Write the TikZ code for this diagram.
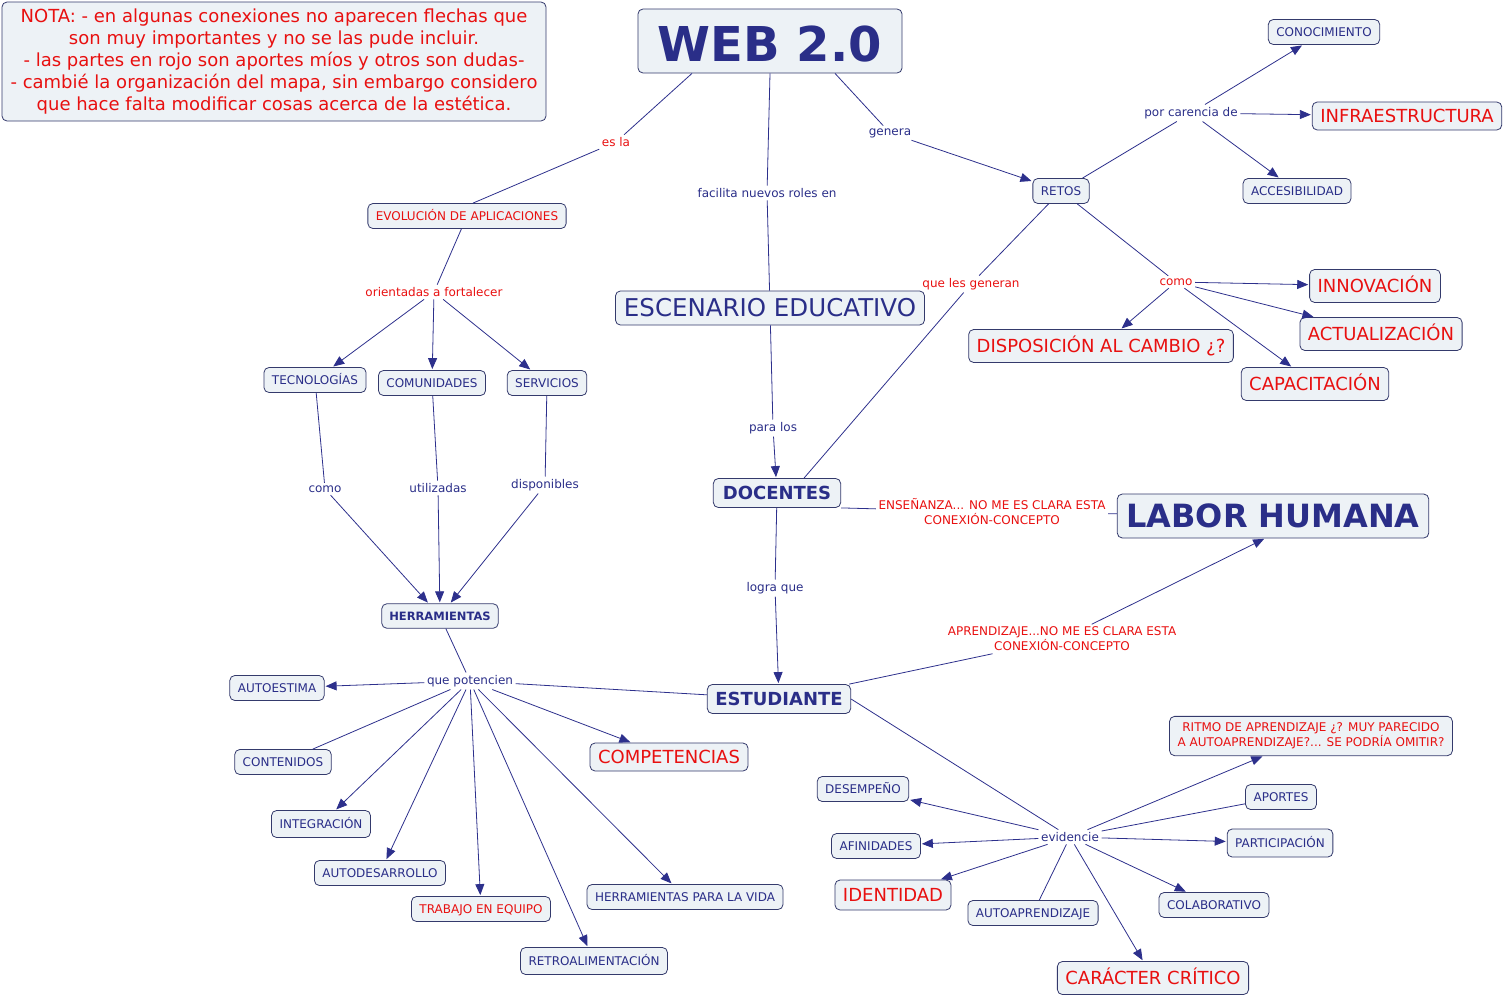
\documentclass[tikz,border=0pt]{standalone}
\usepackage{fontspec}
\setmainfont{DejaVu Sans}
\usetikzlibrary{arrows.meta}
\definecolor{azulmapa}{RGB}{42,46,136}
\definecolor{lineamapa}{RGB}{45,48,140}
\definecolor{bordemapa}{RGB}{52,58,108}
\definecolor{fondomapa}{RGB}{237,242,246}
\definecolor{rojomapa}{RGB}{232,16,16}

\tikzset{
  caja/.style={draw=bordemapa, fill=fondomapa, rounded corners=5pt, line width=0.8pt, text=azulmapa, inner xsep=8pt, inner ysep=6pt},
  concepto/.style={caja, text height=10.4pt, text depth=1.6pt, inner ysep=6.5pt, font=\fontsize{12}{14}\selectfont},
  grande/.style={caja, text height=15.6pt, text depth=2.4pt, inner ysep=5pt, font=\fontsize{18}{21}\selectfont},
  titulo/.style={caja, inner ysep=5.5pt, font=\fontsize{#1}{#1}\selectfont\bfseries},
  aporte/.style={text=rojomapa},
  enlace/.style={text=azulmapa, inner sep=2.5pt, font=\fontsize{12}{14}\selectfont},
  flecha/.style={draw=lineamapa, line width=0.8pt, -{Triangle[length=11pt,width=9pt]}, shorten >=1pt},
  linea/.style={draw=lineamapa, line width=0.8pt},
}

\begin{document}
\begin{tikzpicture}[x=1pt, y=-1pt]
\useasboundingbox (0,0) rectangle (1506,996);

\node[caja, aporte, align=center, minimum width=544pt, minimum height=119pt, font=\fontsize{18}{22}\selectfont] (nota) at (274,61.5) {NOTA: - en algunas conexiones no aparecen flechas que\\son muy importantes y no se las pude incluir.\\- las partes en rojo son aportes míos y otros son dudas-\\- cambié la organización del mapa, sin embargo considero\\que hace falta modificar cosas acerca de la estética.};

\node[titulo=48, text height=44pt, text depth=4pt, inner xsep=20pt, inner ysep=8pt] (web) at (770,41) {WEB 2.0};
\node[concepto, aporte] (evolucion) at (467,216) {EVOLUCIÓN DE APLICACIONES};
\node[concepto] (tecnologias) at (315,380) {TECNOLOGÍAS};
\node[concepto] (comunidades) at (432,383) {COMUNIDADES};
\node[concepto] (servicios) at (547,383) {SERVICIOS};
\node[titulo=11.5, text height=10pt, text depth=1.5pt, inner xsep=7.5pt, inner ysep=6.5pt] (herramientas) at (440,616) {HERRAMIENTAS};
\node[grande, font=\fontsize{24.5}{28}\selectfont, text height=21.2pt, text depth=3.3pt, inner ysep=4.8pt, inner xsep=8.5pt] (escenario) at (770,308) {ESCENARIO EDUCATIVO};
\node[titulo=18, text height=15.6pt, text depth=2.4pt, inner xsep=9.5pt] (docentes) at (777,493) {DOCENTES};
\node[titulo=18, text height=15.6pt, text depth=2.4pt, inner xsep=8pt] (estudiante) at (779,699) {ESTUDIANTE};
\node[titulo=32, text height=27.7pt, text depth=4.3pt, inner xsep=9pt, inner ysep=6pt] (labor) at (1273,516) {LABOR HUMANA};

\node[concepto] (retos) at (1061,191) {RETOS};
\node[concepto] (conocimiento) at (1324,32) {CONOCIMIENTO};
\node[grande, aporte] (infraestructura) at (1407,116) {INFRAESTRUCTURA};
\node[concepto] (accesibilidad) at (1297,191) {ACCESIBILIDAD};
\node[grande, aporte, inner ysep=7.5pt] (innovacion) at (1375,286) {INNOVACIÓN};
\node[grande, aporte, inner ysep=7.5pt] (actualizacion) at (1381,334) {ACTUALIZACIÓN};
\node[grande, aporte, inner ysep=7.5pt] (capacitacion) at (1315,384) {CAPACITACIÓN};
\node[grande, aporte, inner ysep=7.5pt] (disposicion) at (1101,346) {DISPOSICIÓN AL CAMBIO ¿?};

\node[concepto] (autoestima) at (277,688) {AUTOESTIMA};
\node[concepto] (contenidos) at (283,762) {CONTENIDOS};
\node[concepto, inner ysep=7.5pt] (integracion) at (321,824) {INTEGRACIÓN};
\node[concepto] (autodesarrollo) at (380,873) {AUTODESARROLLO};
\node[concepto, aporte] (trabajo) at (481,909) {TRABAJO EN EQUIPO};
\node[concepto, inner ysep=7.5pt] (retroalimentacion) at (594,961) {RETROALIMENTACIÓN};
\node[concepto] (paralavida) at (685,897) {HERRAMIENTAS PARA LA VIDA};
\node[grande, aporte] (competencias) at (669,757) {COMPETENCIAS};

\node[concepto] (desempeno) at (863,789) {DESEMPEÑO};
\node[concepto] (afinidades) at (876,846) {AFINIDADES};
\node[grande, aporte, inner ysep=6pt] (identidad) at (893,895) {IDENTIDAD};
\node[concepto] (autoaprendizaje) at (1033,913) {AUTOAPRENDIZAJE};
\node[grande, aporte, inner ysep=7.5pt] (critico) at (1153,978) {CARÁCTER CRÍTICO};
\node[concepto] (colaborativo) at (1214,905) {COLABORATIVO};
\node[concepto, inner ysep=8pt] (participacion) at (1280,843) {PARTICIPACIÓN};
\node[concepto] (aportes) at (1281,797) {APORTES};
\node[caja, aporte, align=center, inner ysep=6.5pt, font=\fontsize{12}{15}\selectfont] (ritmo) at (1311,736) {RITMO DE APRENDIZAJE ¿? MUY PARECIDO\\A AUTOAPRENDIZAJE?... SE PODRÍA OMITIR?};

\node[enlace, aporte] (esla) at (616,142) {es la};
\node[enlace] (facilita) at (767,193) {facilita nuevos roles en};
\node[enlace] (genera) at (890,133) {genera};
\node[enlace] (carencia) at (1191,113) {por carencia de};
\node[enlace, aporte] (generan) at (971,284) {que les generan};
\node[enlace, aporte] (comoretos) at (1176,282) {como};
\node[enlace, aporte] (orientadas) at (434,292) {orientadas a fortalecer};
\node[enlace] (paralos) at (773,428) {para los};
\node[enlace] (como) at (325,489) {como};
\node[enlace] (utilizadas) at (438,488) {utilizadas};
\node[enlace] (disponibles) at (545,485) {disponibles};
\node[enlace] (logra) at (775,588) {logra que};
\node[enlace, aporte, align=center, font=\fontsize{12}{15}\selectfont] (ensenanza) at (992,512) {ENSEÑANZA... NO ME ES CLARA ESTA\\CONEXIÓN-CONCEPTO};
\node[enlace, aporte, align=center, font=\fontsize{12}{15}\selectfont] (aprendizaje) at (1062,639) {APRENDIZAJE...NO ME ES CLARA ESTA\\CONEXIÓN-CONCEPTO};
\node[enlace] (potencien) at (470,681) {que potencien};
\node[enlace] (evidencie) at (1070,837) {evidencie};

\draw[linea] ([xshift=-78pt]web.south) -- (esla);
\draw[linea] (esla) -- ([xshift=6pt]evolucion.north);
\draw[linea] (web.south) -- (facilita);
\draw[linea] (facilita) -- (escenario);
\draw[linea] ([xshift=65pt]web.south) -- (genera);
\draw[flecha] (genera) -- (retos);

\draw[linea] (retos) -- (carencia);
\draw[flecha] (carencia) -- (conocimiento);
\draw[flecha] (carencia) -- (infraestructura);
\draw[flecha] (carencia) -- (accesibilidad);
\draw[linea] (retos) -- (generan);
\draw[linea] (generan) -- ([xshift=27pt]docentes.north);
\draw[linea] (retos) -- (comoretos);
\draw[flecha] (comoretos) -- (innovacion);
\draw[flecha] (comoretos) -- (actualizacion);
\draw[flecha] (comoretos) -- (capacitacion);
\draw[flecha] (comoretos) -- (disposicion);

\draw[linea] (evolucion) -- (orientadas);
\draw[flecha] (orientadas) -- (tecnologias);
\draw[flecha] (orientadas) -- (comunidades);
\draw[flecha] (orientadas) -- (servicios);
\draw[linea] (tecnologias) -- (como);
\draw[flecha] (como) -- (herramientas);
\draw[linea] (comunidades) -- (utilizadas);
\draw[flecha] (utilizadas) -- (herramientas);
\draw[linea] (servicios) -- (disponibles);
\draw[flecha] (disponibles) -- (herramientas);

\draw[linea] (escenario) -- (paralos);
\draw[flecha] (paralos) -- (docentes);
\draw[linea] (docentes) -- (logra);
\draw[flecha] (logra) -- (estudiante);
\draw[linea] (docentes.south east) -- (ensenanza);
\draw[linea] (ensenanza) -- (labor);
\draw[linea] (estudiante) -- (aprendizaje);
\draw[flecha] (aprendizaje) -- ([xshift=-8pt]labor.south);

\draw[linea] (herramientas) -- (potencien);
\draw[linea] (estudiante) -- (potencien);
\draw[flecha] (potencien) -- (autoestima);
\draw[linea] (potencien) -- (contenidos);
\draw[flecha] (potencien) -- (integracion);
\draw[flecha] (potencien) -- (autodesarrollo);
\draw[flecha] (potencien) -- (trabajo);
\draw[flecha] (potencien) -- (retroalimentacion);
\draw[flecha] (potencien) -- (paralavida);
\draw[flecha] (potencien) -- (competencias);

\draw[linea] (estudiante.east) -- (evidencie);
\draw[flecha] (evidencie) -- (ritmo);
\draw[linea] (evidencie) -- (aportes);
\draw[flecha] (evidencie) -- (participacion);
\draw[flecha] (evidencie) -- (colaborativo);
\draw[flecha] (evidencie) -- (critico);
\draw[linea] (evidencie) -- (autoaprendizaje);
\draw[flecha] (evidencie) -- (identidad);
\draw[flecha] (evidencie) -- (afinidades);
\draw[flecha] (evidencie) -- (desempeno);
\end{tikzpicture}
\end{document}
